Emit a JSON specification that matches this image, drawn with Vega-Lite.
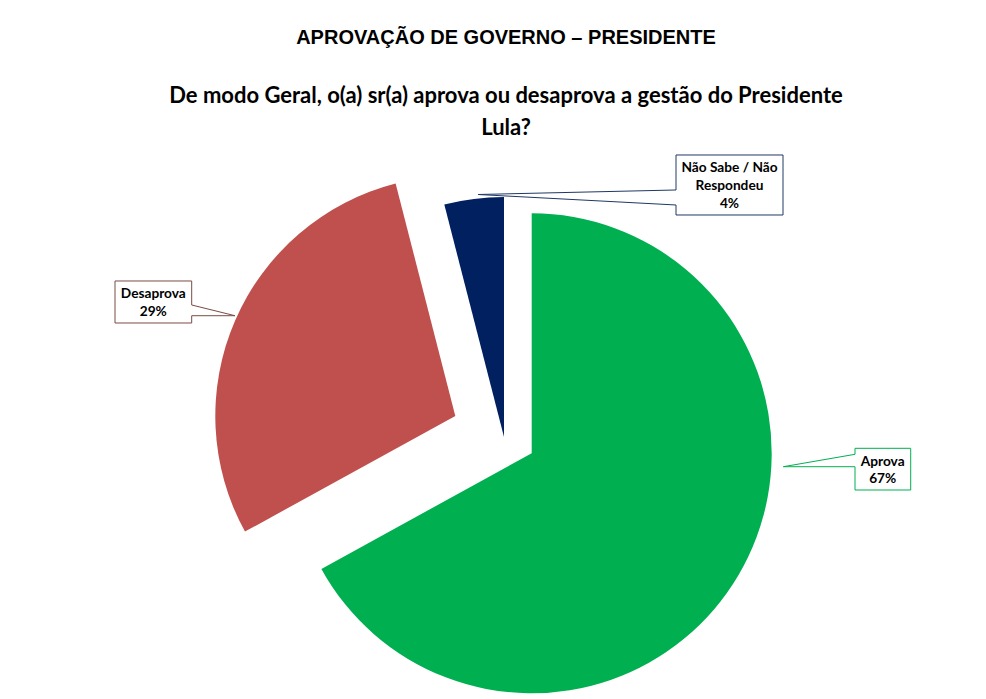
{
  "$schema": "https://vega.github.io/schema/vega-lite/v6.json",
  "width": 986,
  "height": 699,
  "padding": 0,
  "background": "white",
  "title": {
    "text": "APROVAÇÃO DE GOVERNO – PRESIDENTE",
    "subtitle": ["De modo Geral, o(a) sr(a) aprova ou desaprova a gestão do Presidente", "Lula?"],
    "anchor": "middle",
    "frame": "group",
    "offset": -139,
    "dx": 13,
    "font": "Liberation Sans",
    "fontSize": 20,
    "fontWeight": "bold",
    "color": "black",
    "subtitleFont": "Lato",
    "subtitleFontSize": 22,
    "subtitleFontWeight": "bold",
    "subtitleColor": "black",
    "subtitlePadding": 38,
    "subtitleLineHeight": 32
  },
  "data": {
    "values": [
      {"categoria": "Aprova", "rotulo": "Aprova", "pct": 0.67},
      {"categoria": "Desaprova", "rotulo": "Desaprova", "pct": 0.29},
      {"categoria": "Não Sabe / Não Respondeu", "rotulo": "Não Sabe / Não\nRespondeu", "pct": 0.04}
    ]
  },
  "transform": [
    {"stack": "pct", "groupby": [], "sort": [{"field": "pct", "order": "descending"}], "as": ["ini", "fim"]}
  ],
  "layer": [
    {
      "transform": [{"filter": "datum.categoria == 'Aprova'"}],
      "mark": {"type": "arc", "radius": 240},
      "encoding": {
        "x": {"datum": 0.1154, "type": "quantitative", "scale": {"domain": [-2.1, 2.00833], "nice": false, "zero": false}, "axis": null},
        "y": {"datum": -0.0679, "type": "quantitative", "scale": {"domain": [-1.09167, 1.82083], "nice": false, "zero": false}, "axis": null},
        "theta": {"field": "ini", "type": "quantitative", "scale": {"domain": [0, 1]}},
        "theta2": {"field": "fim"},
        "color": {"field": "categoria", "type": "nominal", "scale": {"domain": ["Aprova", "Desaprova", "Não Sabe / Não Respondeu"], "range": ["#00B050", "#C0504D", "#002060"]}, "legend": null},
        "tooltip": [{"field": "categoria", "title": "Resposta"}, {"field": "pct", "title": "%", "format": ".0%"}]
      }
    },
    {
      "transform": [{"filter": "datum.categoria == 'Desaprova'"}],
      "mark": {"type": "arc", "radius": 240},
      "encoding": {
        "x": {"datum": -0.2029, "type": "quantitative", "scale": {"domain": [-2.1, 2.00833], "nice": false, "zero": false}, "axis": null},
        "y": {"datum": 0.0875, "type": "quantitative", "scale": {"domain": [-1.09167, 1.82083], "nice": false, "zero": false}, "axis": null},
        "theta": {"field": "ini", "type": "quantitative", "scale": {"domain": [0, 1]}},
        "theta2": {"field": "fim"},
        "color": {"field": "categoria", "type": "nominal", "scale": {"domain": ["Aprova", "Desaprova", "Não Sabe / Não Respondeu"], "range": ["#00B050", "#C0504D", "#002060"]}, "legend": null},
        "tooltip": [{"field": "categoria", "title": "Resposta"}, {"field": "pct", "title": "%", "format": ".0%"}]
      }
    },
    {
      "transform": [{"filter": "datum.categoria == 'Não Sabe / Não Respondeu'"}],
      "mark": {"type": "arc", "radius": 240},
      "encoding": {
        "x": {"datum": 0, "type": "quantitative", "scale": {"domain": [-2.1, 2.00833], "nice": false, "zero": false}, "axis": null},
        "y": {"datum": 0, "type": "quantitative", "scale": {"domain": [-1.09167, 1.82083], "nice": false, "zero": false}, "axis": null},
        "theta": {"field": "ini", "type": "quantitative", "scale": {"domain": [0, 1]}},
        "theta2": {"field": "fim"},
        "color": {"field": "categoria", "type": "nominal", "scale": {"domain": ["Aprova", "Desaprova", "Não Sabe / Não Respondeu"], "range": ["#00B050", "#C0504D", "#002060"]}, "legend": null},
        "tooltip": [{"field": "categoria", "title": "Resposta"}, {"field": "pct", "title": "%", "format": ".0%"}]
      }
    },
    {
      "transform": [{"filter": "datum.categoria == 'Não Sabe / Não Respondeu'"}],
      "layer": [
        {
          "mark": {"type": "rect", "fill": "white", "stroke": "#1F3864", "strokeWidth": 1},
          "encoding": {
            "x": {"datum": 0.7167, "type": "quantitative", "scale": {"domain": [-2.1, 2.00833], "nice": false, "zero": false}, "axis": null},
            "x2": {"datum": 1.1625},
            "y": {"datum": 1.175, "type": "quantitative", "scale": {"domain": [-1.09167, 1.82083], "nice": false, "zero": false}, "axis": null},
            "y2": {"datum": 0.925}
          }
        },
        {
          "mark": {"type": "rule", "stroke": "white", "strokeWidth": 2.5},
          "encoding": {
            "x": {"datum": 0.7167, "type": "quantitative", "scale": {"domain": [-2.1, 2.00833], "nice": false, "zero": false}, "axis": null},
            "x2": {"datum": 0.7167},
            "y": {"datum": 1.0292, "type": "quantitative", "scale": {"domain": [-1.09167, 1.82083], "nice": false, "zero": false}, "axis": null},
            "y2": {"datum": 0.9667}
          }
        },
        {
          "mark": {"type": "rule", "stroke": "#1F3864", "strokeWidth": 1},
          "encoding": {
            "x": {"datum": -0.1083, "type": "quantitative", "scale": {"domain": [-2.1, 2.00833], "nice": false, "zero": false}, "axis": null},
            "x2": {"datum": 0.7167},
            "y": {"datum": 1.0104, "type": "quantitative", "scale": {"domain": [-1.09167, 1.82083], "nice": false, "zero": false}, "axis": null},
            "y2": {"datum": 1.0292}
          }
        },
        {
          "mark": {"type": "rule", "stroke": "#1F3864", "strokeWidth": 1},
          "encoding": {
            "x": {"datum": -0.1083, "type": "quantitative", "scale": {"domain": [-2.1, 2.00833], "nice": false, "zero": false}, "axis": null},
            "x2": {"datum": 0.7167},
            "y": {"datum": 1.0104, "type": "quantitative", "scale": {"domain": [-1.09167, 1.82083], "nice": false, "zero": false}, "axis": null},
            "y2": {"datum": 0.9667}
          }
        },
        {
          "mark": {"type": "text", "font": "Lato", "fontWeight": "bold", "fontSize": 13.7, "align": "center", "baseline": "middle", "lineBreak": "\n", "lineHeight": 18, "color": "black"},
          "encoding": {
            "x": {"datum": 0.9396, "type": "quantitative", "scale": {"domain": [-2.1, 2.00833], "nice": false, "zero": false}, "axis": null},
            "y": {"datum": 1.1208, "type": "quantitative", "scale": {"domain": [-1.09167, 1.82083], "nice": false, "zero": false}, "axis": null},
            "text": {"field": "rotulo"}
          }
        },
        {
          "mark": {"type": "text", "font": "Lato", "fontWeight": "bold", "fontSize": 13.7, "align": "center", "baseline": "middle", "color": "black"},
          "encoding": {
            "x": {"datum": 0.9396, "type": "quantitative", "scale": {"domain": [-2.1, 2.00833], "nice": false, "zero": false}, "axis": null},
            "y": {"datum": 0.9708, "type": "quantitative", "scale": {"domain": [-1.09167, 1.82083], "nice": false, "zero": false}, "axis": null},
            "text": {"field": "pct", "type": "quantitative", "format": ".0%"}
          }
        }
      ]
    },
    {
      "transform": [{"filter": "datum.categoria == 'Desaprova'"}],
      "layer": [
        {
          "mark": {"type": "rect", "fill": "white", "stroke": "#7B4A44", "strokeWidth": 1},
          "encoding": {
            "x": {"datum": -1.6208, "type": "quantitative", "scale": {"domain": [-2.1, 2.00833], "nice": false, "zero": false}, "axis": null},
            "x2": {"datum": -1.3013},
            "y": {"datum": 0.65, "type": "quantitative", "scale": {"domain": [-1.09167, 1.82083], "nice": false, "zero": false}, "axis": null},
            "y2": {"datum": 0.475}
          }
        },
        {
          "mark": {"type": "rule", "stroke": "white", "strokeWidth": 2.5},
          "encoding": {
            "x": {"datum": -1.3013, "type": "quantitative", "scale": {"domain": [-2.1, 2.00833], "nice": false, "zero": false}, "axis": null},
            "x2": {"datum": -1.3013},
            "y": {"datum": 0.55, "type": "quantitative", "scale": {"domain": [-1.09167, 1.82083], "nice": false, "zero": false}, "axis": null},
            "y2": {"datum": 0.5054}
          }
        },
        {
          "mark": {"type": "rule", "stroke": "#7B4A44", "strokeWidth": 1},
          "encoding": {
            "x": {"datum": -1.1208, "type": "quantitative", "scale": {"domain": [-2.1, 2.00833], "nice": false, "zero": false}, "axis": null},
            "x2": {"datum": -1.3013},
            "y": {"datum": 0.5054, "type": "quantitative", "scale": {"domain": [-1.09167, 1.82083], "nice": false, "zero": false}, "axis": null},
            "y2": {"datum": 0.55}
          }
        },
        {
          "mark": {"type": "rule", "stroke": "#7B4A44", "strokeWidth": 1},
          "encoding": {
            "x": {"datum": -1.1208, "type": "quantitative", "scale": {"domain": [-2.1, 2.00833], "nice": false, "zero": false}, "axis": null},
            "x2": {"datum": -1.3013},
            "y": {"datum": 0.5054, "type": "quantitative", "scale": {"domain": [-1.09167, 1.82083], "nice": false, "zero": false}, "axis": null},
            "y2": {"datum": 0.5054}
          }
        },
        {
          "mark": {"type": "text", "font": "Lato", "fontWeight": "bold", "fontSize": 13.7, "align": "center", "baseline": "middle", "color": "black"},
          "encoding": {
            "x": {"datum": -1.4613, "type": "quantitative", "scale": {"domain": [-2.1, 2.00833], "nice": false, "zero": false}, "axis": null},
            "y": {"datum": 0.5958, "type": "quantitative", "scale": {"domain": [-1.09167, 1.82083], "nice": false, "zero": false}, "axis": null},
            "text": {"field": "rotulo"}
          }
        },
        {
          "mark": {"type": "text", "font": "Lato", "fontWeight": "bold", "fontSize": 13.7, "align": "center", "baseline": "middle", "color": "black"},
          "encoding": {
            "x": {"datum": -1.4613, "type": "quantitative", "scale": {"domain": [-2.1, 2.00833], "nice": false, "zero": false}, "axis": null},
            "y": {"datum": 0.5221, "type": "quantitative", "scale": {"domain": [-1.09167, 1.82083], "nice": false, "zero": false}, "axis": null},
            "text": {"field": "pct", "type": "quantitative", "format": ".0%"}
          }
        }
      ]
    },
    {
      "transform": [{"filter": "datum.categoria == 'Aprova'"}],
      "layer": [
        {
          "mark": {"type": "rect", "fill": "white", "stroke": "#00B050", "strokeWidth": 1},
          "encoding": {
            "x": {"datum": 1.4625, "type": "quantitative", "scale": {"domain": [-2.1, 2.00833], "nice": false, "zero": false}, "axis": null},
            "x2": {"datum": 1.6946},
            "y": {"datum": -0.0471, "type": "quantitative", "scale": {"domain": [-1.09167, 1.82083], "nice": false, "zero": false}, "axis": null},
            "y2": {"datum": -0.2208}
          }
        },
        {
          "mark": {"type": "rule", "stroke": "white", "strokeWidth": 2.5},
          "encoding": {
            "x": {"datum": 1.4625, "type": "quantitative", "scale": {"domain": [-2.1, 2.00833], "nice": false, "zero": false}, "axis": null},
            "x2": {"datum": 1.4625},
            "y": {"datum": -0.0721, "type": "quantitative", "scale": {"domain": [-1.09167, 1.82083], "nice": false, "zero": false}, "axis": null},
            "y2": {"datum": -0.1238}
          }
        },
        {
          "mark": {"type": "rule", "stroke": "#00B050", "strokeWidth": 1},
          "encoding": {
            "x": {"datum": 1.1638, "type": "quantitative", "scale": {"domain": [-2.1, 2.00833], "nice": false, "zero": false}, "axis": null},
            "x2": {"datum": 1.4625},
            "y": {"datum": -0.1238, "type": "quantitative", "scale": {"domain": [-1.09167, 1.82083], "nice": false, "zero": false}, "axis": null},
            "y2": {"datum": -0.0721}
          }
        },
        {
          "mark": {"type": "rule", "stroke": "#00B050", "strokeWidth": 1},
          "encoding": {
            "x": {"datum": 1.1638, "type": "quantitative", "scale": {"domain": [-2.1, 2.00833], "nice": false, "zero": false}, "axis": null},
            "x2": {"datum": 1.4625},
            "y": {"datum": -0.1238, "type": "quantitative", "scale": {"domain": [-1.09167, 1.82083], "nice": false, "zero": false}, "axis": null},
            "y2": {"datum": -0.1238}
          }
        },
        {
          "mark": {"type": "text", "font": "Lato", "fontWeight": "bold", "fontSize": 13.7, "align": "center", "baseline": "middle", "color": "black"},
          "encoding": {
            "x": {"datum": 1.5779, "type": "quantitative", "scale": {"domain": [-2.1, 2.00833], "nice": false, "zero": false}, "axis": null},
            "y": {"datum": -0.1029, "type": "quantitative", "scale": {"domain": [-1.09167, 1.82083], "nice": false, "zero": false}, "axis": null},
            "text": {"field": "rotulo"}
          }
        },
        {
          "mark": {"type": "text", "font": "Lato", "fontWeight": "bold", "fontSize": 13.7, "align": "center", "baseline": "middle", "color": "black"},
          "encoding": {
            "x": {"datum": 1.5779, "type": "quantitative", "scale": {"domain": [-2.1, 2.00833], "nice": false, "zero": false}, "axis": null},
            "y": {"datum": -0.175, "type": "quantitative", "scale": {"domain": [-1.09167, 1.82083], "nice": false, "zero": false}, "axis": null},
            "text": {"field": "pct", "type": "quantitative", "format": ".0%"}
          }
        }
      ]
    }
  ],
  "config": {"view": {"stroke": null}}
}
